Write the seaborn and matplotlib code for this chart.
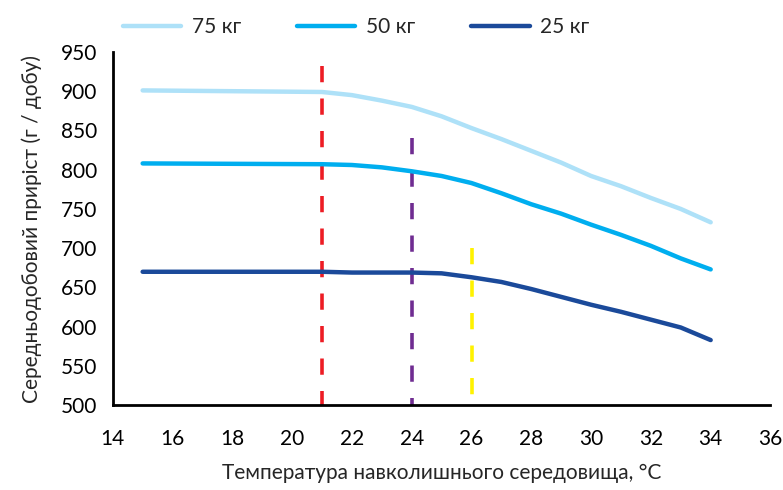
import seaborn as sns
import pandas as pd
import matplotlib.pyplot as plt

# Температура, °C
temps = [15, 21, 22, 23, 24, 25, 26, 27, 28, 29, 30, 31, 32, 33, 34]

# Середньодобовий приріст, г / добу
gain_75 = [901, 899, 895, 888, 880, 868, 853, 839, 824, 809, 792, 779, 764, 750, 733]
gain_50 = [808, 807, 806, 803, 798, 792, 783, 770, 756, 744, 730, 717, 703, 687, 673]
gain_25 = [670, 670, 669, 669, 669, 668, 663, 657, 648, 638, 628, 619, 609, 599, 583]

series_names = ["75 кг", "50 кг", "25 кг"]
series_colors = ["#aee1f8", "#00aeef", "#1b4a9a"]

# вертикальні пунктирні лінії: (температура, верх, колір)
vlines_x = [21, 24, 26]
vlines_top = [932, 840, 700]
vlines_colors = ["#ed1c24", "#6f2c91", "#fff200"]

df = pd.DataFrame({
    "t": temps * 3,
    "gain": gain_75 + gain_50 + gain_25,
    "group": [series_names[0]] * len(temps) + [series_names[1]] * len(temps) + [series_names[2]] * len(temps),
})

sns.set_style("white")
plt.rcParams["font.family"] = ["Lato", "DejaVu Sans"]

fig = plt.figure(figsize=(7.83, 4.9), dpi=100)
ax = fig.add_axes([0.144, 0.173, 0.840, 0.721])

sns.lineplot(data=df, x="t", y="gain", hue="group", hue_order=series_names,
             palette=series_colors, linewidth=3.2, ax=ax)

# пунктир малюємо зверху вниз, щоб верхній штрих починався з лінії
for x, top, c in zip(vlines_x, vlines_top, vlines_colors):
    ax.plot([x, x], [top, 500], color=c, linewidth=2.6, dashes=(4.5, 4.5), zorder=1)

ax.set_xlim(14, 36)
ax.set_ylim(500, 950)
ax.set_xticks(range(14, 37, 2))
ax.set_yticks(range(500, 951, 50))
ax.tick_params(axis="both", direction="inout", length=10, width=2, labelsize=15, colors="black")
ax.tick_params(axis="x", pad=12)
ax.tick_params(axis="y", pad=6)
for s in ["top", "right"]:
    ax.spines[s].set_visible(False)
for s in ["left", "bottom"]:
    ax.spines[s].set_color("black")
    ax.spines[s].set_linewidth(2)

ax.set_xlabel("Температура навколишнього середовища, °C", fontsize=15, labelpad=10)
ax.set_ylabel("Середньодобовий приріст (г / добу)", fontsize=15, labelpad=14)

ax.legend(loc="lower center", bbox_to_anchor=(0.37, 1.0), ncol=3, frameon=False,
          fontsize=15, handlelength=2.8, columnspacing=2.7, handletextpad=0.5,
          borderaxespad=0.3)

fig.savefig("out.png", dpi=100)
